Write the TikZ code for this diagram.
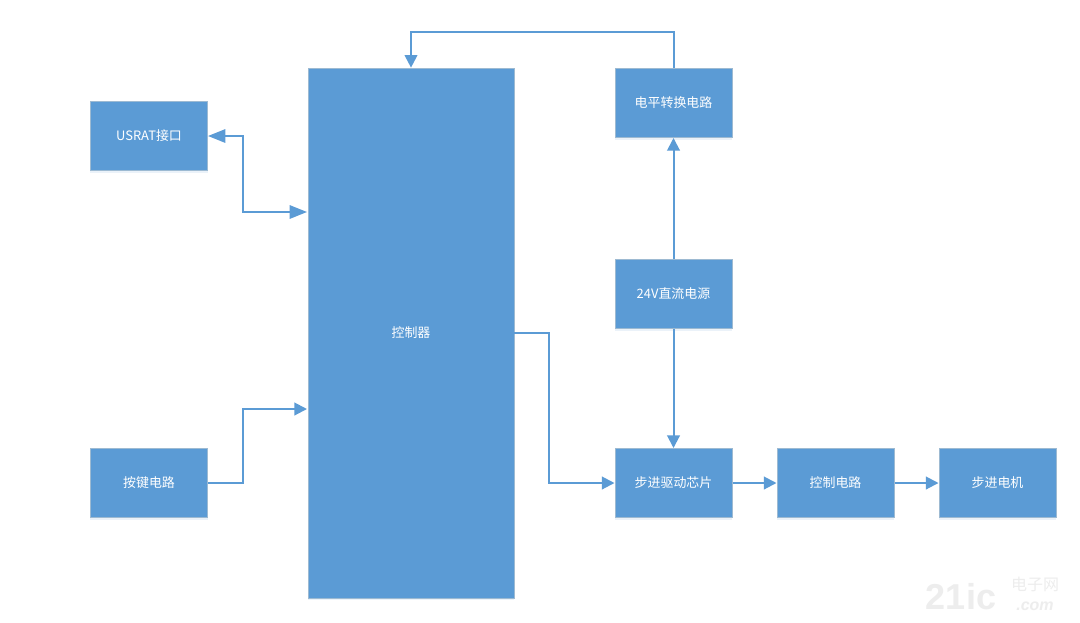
\documentclass[tikz,border=0pt]{standalone}
\usepackage{fontspec}
\setmainfont{Noto Sans CJK SC}
\newfontfamily\wmfont{Liberation Sans}
\usetikzlibrary{arrows.meta,shadows,positioning}
\definecolor{boxblue}{HTML}{5B9BD5}
\definecolor{boxedge}{HTML}{9DBAD2}
\tikzset{
  blockbox/.style={draw=boxedge,line width=0.5pt,fill=boxblue,text=white,inner sep=0pt,
    font=\fontsize{9.7pt}{11pt}\selectfont,
    drop shadow={shadow xshift=0pt,shadow yshift=-1.4pt,fill=boxblue,opacity=0.12}},
  smallbox/.style={blockbox,minimum width=88pt,minimum height=52pt},
  link/.style={draw=boxblue,line width=1.5pt,-{Triangle[length=9.5pt,width=9.5pt]}},
  bilink/.style={draw=boxblue,line width=1.5pt,{Triangle[length=13pt,width=10pt]}-{Triangle[length=13pt,width=10pt]}},
  wmtext/.style={inner sep=0pt,text=black!7,anchor=center}
}
\begin{document}
\begin{tikzpicture}[x=0.75pt,y=-0.75pt]
\useasboundingbox (0,0) rectangle (1080,622);
\fill[white] (0,0) rectangle (1080,622);
% blocks
\node[blockbox,minimum width=154.5pt,minimum height=397.5pt] (ctrl) at (411,333) {控制器};
\node[smallbox] (usrat) at (149,136) {USRAT接口};
\node[smallbox] (keys) at (149,483) {按键电路};
\node[smallbox] (level) at (673.5,103) {电平转换电路};
\node[smallbox] (power) at (673.5,294) {24V直流电源};
\node[smallbox] (driver) at (673.5,483) {步进驱动芯片};
\node[smallbox] (circuit) at (835.5,483) {控制电路};
\node[smallbox] (motor) at (997.5,483) {步进电机};
% connector ports on the controller
\coordinate (portU) at (307,212);
\coordinate (portK) at (307,409);
\coordinate (bendTop) at (673.5,32);
% connectors
\draw[bilink] (usrat.east) -| (243,212) -- (portU);
\draw[link] (keys.east) -| (243,409) -- (portK);
\draw[link] (ctrl.east) -| (549,483) -- (driver.west);
\draw[link] (power.north) -- (level.south);
\draw[link] (power.south) -- (driver.north);
\draw[link] (driver.east) -- (circuit.west);
\draw[link] (circuit.east) -- (motor.west);
\draw[link] (level.north) -- (bendTop) -| (ctrl.north);
% watermark
\node[wmtext,font=\wmfont\bfseries\fontsize{27pt}{27pt}\selectfont] (wmA) at (961,597) {21ic};
\node[wmtext,font=\fontsize{12pt}{12pt}\selectfont] (wmB) at (1035,584) {电子网};
\node[wmtext,font=\wmfont\bfseries\itshape\fontsize{12pt}{12pt}\selectfont] (wmC) at (1035,606) {.com};
\end{tikzpicture}
\end{document}
